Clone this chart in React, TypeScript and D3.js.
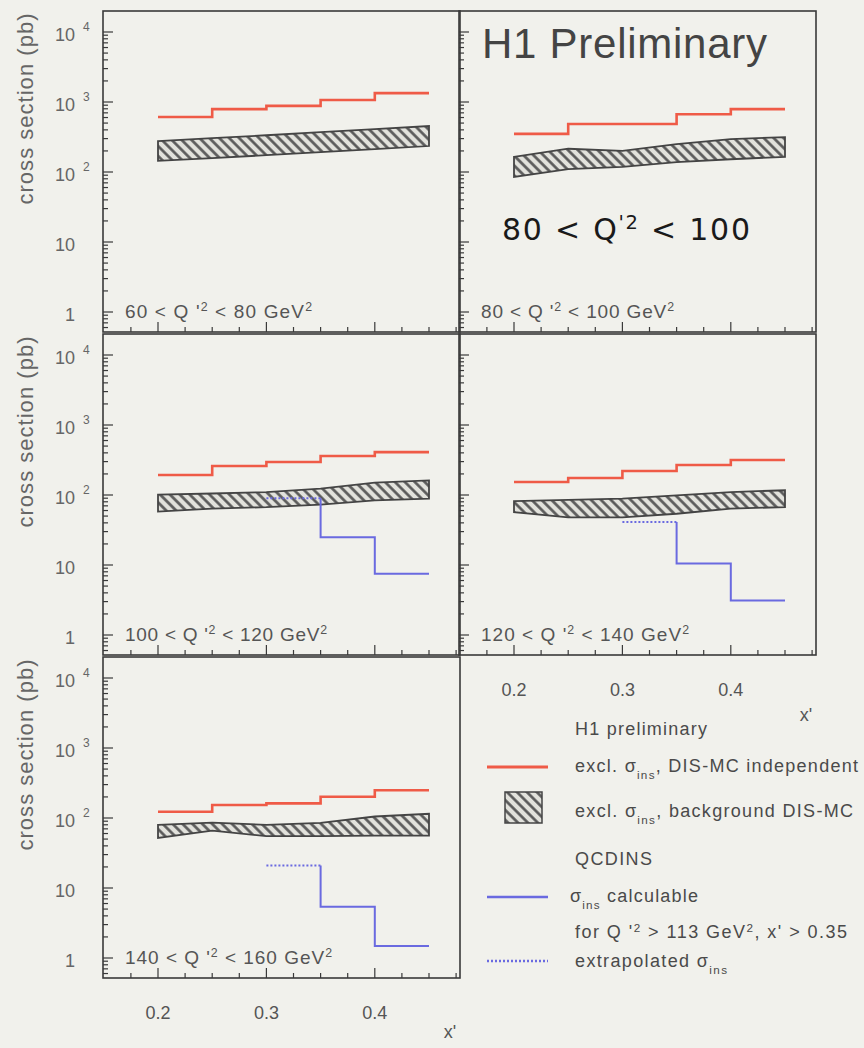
import { useRef, useEffect } from 'react';
import * as d3 from 'd3';

// bin edges in x' and the points the hatched band runs through
const binEdges = [0.2, 0.25, 0.3, 0.35, 0.4, 0.45];
const bandX = [0.2, 0.25, 0.3, 0.35, 0.4, 0.45];
const xTickLabels = [0.2, 0.3, 0.4];
const yDecades = [1, 10, 100, 1000, 10000];

// Q'^2 ranges (GeV^2)
const q2Low = [60, 80, 100, 120, 140];
const q2High = [80, 100, 120, 140, 160];

// excl. sigma_ins, DIS-MC independent (pb), one value per x' bin
const red60 = [610, 790, 880, 1070, 1340];
const red80 = [350, 485, 485, 670, 790];
const red100 = [193, 260, 296, 360, 410];
const red120 = [153, 175, 220, 268, 316];
const red140 = [123, 153, 162, 201, 249];

// excl. sigma_ins, background DIS-MC band (pb)
const bandLo60 = [144, 158, 174, 192, 212, 235];
const bandHi60 = [277, 305, 335, 370, 410, 454];
const bandLo80 = [85, 110, 118, 138, 152, 165];
const bandHi80 = [165, 215, 200, 250, 295, 315];
const bandLo100 = [58, 64, 67, 73, 84, 89];
const bandHi100 = [101, 105, 110, 123, 150, 162];
const bandLo120 = [57, 48, 48, 54, 64, 67];
const bandHi120 = [82, 85, 89, 99, 110, 117];
const bandLo140 = [52, 66, 55, 55, 56, 56];
const bandHi140 = [80, 86, 80, 85, 105, 115];

// QCDINS: extrapolated value for bin 0.30-0.35, calculable for 0.35-0.40 and 0.40-0.45
const extrap100 = 90;
const calc100 = [25, 7.5];
const extrap120 = 41;
const calc120 = [10.5, 3.1];
const extrap140 = 21;
const calc140 = [5.4, 1.48];

const panels = [
  { col: 0, row: 0, red: red60, lo: bandLo60, hi: bandHi60, extrap: null, calc: null, labelW: 187 },
  { col: 1, row: 0, red: red80, lo: bandLo80, hi: bandHi80, extrap: null, calc: null, labelW: 193 },
  { col: 0, row: 1, red: red100, lo: bandLo100, hi: bandHi100, extrap: extrap100, calc: calc100, labelW: 202 },
  { col: 1, row: 1, red: red120, lo: bandLo120, hi: bandHi120, extrap: extrap120, calc: calc120, labelW: 208 },
  { col: 0, row: 2, red: red140, lo: bandLo140, hi: bandHi140, extrap: extrap140, calc: calc140, labelW: 207 },
];

type Part = { t: string; sup?: boolean; sub?: boolean };

export default function App() {
  const svgRef = useRef<SVGSVGElement>(null);

  useEffect(() => {
    if (!svgRef.current) return;
    const svg = d3.select(svgRef.current);
    svg.selectAll('*').remove();

    const width = 864;
    const height = 1048;
    const font = "'Liberation Sans', Arial, Helvetica, sans-serif";
    const ink = '#4a4a4a';
    const frame = '#3a3a3a';
    const red = '#ef5b47';
    const blue = '#6a6ae0';

    svg.append('rect').attr('width', width).attr('height', height).attr('fill', '#f1f1ec');

    const defs = svg.append('defs');
    const pat = defs
      .append('pattern')
      .attr('id', 'hatch')
      .attr('patternUnits', 'userSpaceOnUse')
      .attr('width', 7)
      .attr('height', 7)
      .attr('patternTransform', 'rotate(-45)');
    pat.append('rect').attr('width', 7).attr('height', 7).attr('fill', '#e2e2dc');
    pat.append('line').attr('x1', 1.5).attr('y1', 0).attr('x2', 1.5).attr('y2', 7)
      .attr('stroke', '#555').attr('stroke-width', 2.6);

    const addText = (
      x: number, y: number, parts: Part[], size: number,
      opts: { len?: number; anchor?: string; fill?: string; family?: string; style?: string } = {}
    ) => {
      const t = svg.append('text')
        .attr('x', x).attr('y', y)
        .attr('font-size', size)
        .attr('font-family', opts.family ?? font)
        .attr('fill', opts.fill ?? ink)
        .attr('text-anchor', opts.anchor ?? 'start');
      if (opts.style) t.attr('font-style', opts.style);
      parts.forEach((p) => {
        const ts = t.append('tspan').text(p.t);
        if (p.sup) ts.attr('font-size', size * 0.65).attr('baseline-shift', 'super');
        if (p.sub) ts.attr('font-size', size * 0.65).attr('baseline-shift', 'sub');
      });
      if (opts.len) t.attr('textLength', opts.len).attr('lengthAdjust', 'spacing');
      return t;
    };

    const colLeft = [103, 459];
    const rowTop = [11, 334, 657];
    const pw = 357;
    const ph = 321;

    panels.forEach((p, idx) => {
      const left = colLeft[p.col];
      const top = rowTop[p.row];
      const x = d3.scaleLinear().domain([0.2, 0.45]).range([left + 55, left + 326]);
      const y = d3.scaleLog().domain([1, 1e4]).range([top + ph - 20, top + 21]);
      const g = svg.append('g');

      // hatched band
      const area = d3.area<number>()
        .x((_, i) => x(bandX[i]))
        .y0((_, i) => y(p.lo[i]))
        .y1((_, i) => y(p.hi[i]));
      g.append('path').datum(p.lo).attr('d', area)
        .attr('fill', 'url(#hatch)').attr('stroke', '#444').attr('stroke-width', 1.8);

      // red step line
      const step = d3.line<[number, number]>()
        .x((d) => x(d[0])).y((d) => y(d[1]))
        .curve(d3.curveStepAfter);
      const redPts: [number, number][] = binEdges.map((e, i) => [e, p.red[Math.min(i, p.red.length - 1)]]);
      g.append('path').attr('d', step(redPts)).attr('fill', 'none')
        .attr('stroke', red).attr('stroke-width', 2.6);

      // QCDINS
      if (p.extrap != null && p.calc) {
        g.append('path')
          .attr('d', d3.line<[number, number]>().x((d) => x(d[0])).y((d) => y(d[1]))([[0.3, p.extrap], [0.35, p.extrap]]))
          .attr('fill', 'none').attr('stroke', blue).attr('stroke-width', 2)
          .attr('stroke-dasharray', '2,2');
        const bluePts: [number, number][] = [
          [0.35, p.extrap], [0.35, p.calc[0]], [0.4, p.calc[1]], [0.45, p.calc[1]],
        ];
        g.append('path').attr('d', step(bluePts)).attr('fill', 'none')
          .attr('stroke', blue).attr('stroke-width', 2);
      }

      // y ticks (log, inside)
      for (let k = -1; k <= 4; k++) {
        for (let m = 1; m <= 9; m++) {
          const v = m * Math.pow(10, k);
          const yy = y(v);
          if (yy < top + 2 || yy > top + ph - 2) continue;
          g.append('line').attr('x1', left).attr('x2', left + (m === 1 ? 10 : 5))
            .attr('y1', yy).attr('y2', yy).attr('stroke', frame).attr('stroke-width', 1.2);
        }
      }
      // x ticks (inside, from bottom)
      d3.range(0.15, 0.48, 0.025).forEach((v) => {
        const xx = x(v);
        if (xx < left + 2 || xx > left + pw - 2) return;
        const major = Math.abs(v * 10 - Math.round(v * 10)) < 1e-6;
        g.append('line').attr('x1', xx).attr('x2', xx)
          .attr('y1', top + ph).attr('y2', top + ph - (major ? 10 : 5))
          .attr('stroke', frame).attr('stroke-width', 1.2);
      });

      // frame
      g.append('rect').attr('x', left).attr('y', top).attr('width', pw).attr('height', ph)
        .attr('fill', 'none').attr('stroke', frame).attr('stroke-width', 1.6);

      // panel label
      addText(left + 22, top + ph - 14, [
        { t: `${q2Low[idx]} < Q '` }, { t: '2', sup: true },
        { t: ` < ${q2High[idx]} GeV` }, { t: '2', sup: true },
      ], 19, { len: p.labelW, fill: '#555' });

      // y tick labels and title on the left column
      if (p.col === 0) {
        yDecades.forEach((v, k) => {
          const yy = y(v) + 9;
          if (k === 0) addText(70, yy, [{ t: '1' }], 18, { anchor: 'middle', fill: '#666' });
          else if (k === 1) addText(55, yy, [{ t: '10' }], 18, { fill: '#666' });
          else {
            addText(55, yy, [{ t: '10' }], 18, { fill: '#666' });
            addText(83, yy - 10, [{ t: String(k) }], 12, { fill: '#666' });
          }
        });
        svg.append('text')
          .attr('transform', `translate(33,${top + 98}) rotate(-90)`)
          .attr('text-anchor', 'middle')
          .attr('font-size', 22).attr('font-family', font).attr('fill', '#666')
          .attr('textLength', 191).attr('lengthAdjust', 'spacing')
          .text('cross section (pb)');
      }

      // x tick labels under the lowest panel of each column
      if ((p.col === 0 && p.row === 2) || (p.col === 1 && p.row === 1)) {
        xTickLabels.forEach((v) => {
          addText(x(v), top + ph + 41, [{ t: v.toFixed(1) }], 18, { anchor: 'middle', fill: '#555' });
        });
        addText(left + pw - 10, top + ph + (p.row === 2 ? 60 : 66), [{ t: "x'" }], 18, { anchor: 'middle', fill: '#555' });
      }
    });

    // title and handwritten note
    addText(482, 58, [{ t: 'H1 Preliminary' }], 42, { len: 285, fill: '#444' });
    addText(502, 240, [{ t: '80 < Q' }, { t: "'2", sup: true }, { t: ' < 100' }], 30,
      { len: 248, fill: '#1a1a1a', family: "'DejaVu Sans', sans-serif" });

    // legend
    addText(575, 735, [{ t: 'H1 preliminary' }], 18, { len: 132 });
    svg.append('line').attr('x1', 487).attr('x2', 548).attr('y1', 767).attr('y2', 767)
      .attr('stroke', red).attr('stroke-width', 3);
    addText(575, 772, [{ t: 'excl. σ' }, { t: 'ins', sub: true }, { t: ', DIS-MC independent' }], 18, { len: 283 });
    svg.append('rect').attr('x', 505).attr('y', 792).attr('width', 37).attr('height', 31)
      .attr('fill', 'url(#hatch)').attr('stroke', '#444').attr('stroke-width', 1.5);
    addText(575, 817, [{ t: 'excl. σ' }, { t: 'ins', sub: true }, { t: ', background DIS-MC' }], 18, { len: 278 });
    addText(575, 865, [{ t: 'QCDINS' }], 18, { len: 77 });
    svg.append('line').attr('x1', 487).attr('x2', 548).attr('y1', 897).attr('y2', 897)
      .attr('stroke', blue).attr('stroke-width', 2.5);
    addText(570, 902, [{ t: 'σ' }, { t: 'ins', sub: true }, { t: ' calculable' }], 18, { len: 128 });
    addText(575, 938, [{ t: "for Q '" }, { t: '2', sup: true }, { t: ' > 113 GeV' }, { t: '2', sup: true }, { t: ", x' > 0.35" }], 18, { len: 272 });
    svg.append('line').attr('x1', 487).attr('x2', 548).attr('y1', 961).attr('y2', 961)
      .attr('stroke', blue).attr('stroke-width', 2.5).attr('stroke-dasharray', '2,2');
    addText(575, 967, [{ t: 'extrapolated σ' }, { t: 'ins', sub: true }], 18, { len: 152 });
  }, []);

  return (
    <svg
      ref={svgRef}
      width={864}
      height={1048}
      style={{ position: 'absolute', left: 0, top: 0 }}
    />
  );
}
